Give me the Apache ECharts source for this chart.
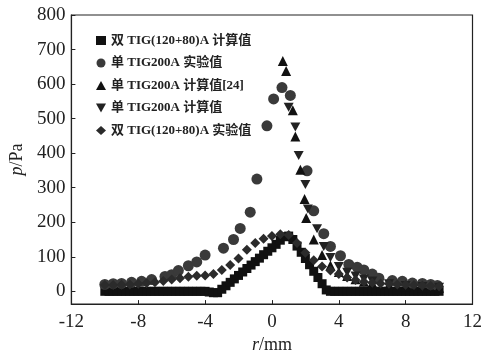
<!DOCTYPE html>
<html><head><meta charset="utf-8">
<script src="https://cdn.jsdelivr.net/npm/echarts@6/dist/echarts.min.js"></script>
<style>html,body{margin:0;padding:0;background:#fff}#c{width:485px;height:359px}</style>
</head><body><div id="c"></div>
<script>
// ---- data ----
const seriesNames = ['双 TIG(120+80)A 计算值','单 TIG200A 实验值','单 TIG200A 计算值[24]','单 TIG200A 计算值','双 TIG(120+80)A 实验值'];
const xTicks = [-12,-8,-4,0,4,8,12];
const yTicks = [0,100,200,300,400,500,600,700,800];

// double TIG calc (squares)
const sqR = [-10,-9.75,-9.5,-9.25,-9,-8.75,-8.5,-8.25,-8,-7.75,-7.5,-7.25,-7,-6.75,-6.5,-6.25,-6,-5.75,-5.5,-5.25,-5,-4.75,-4.5,-4.25,-4,-3.75,-3.5,-3.25,-3,-2.75,-2.5,-2.25,-2,-1.75,-1.5,-1.25,-1,-0.75,-0.5,-0.25,0,0.25,0.5,0.75,1,1.25,1.5,1.75,2,2.25,2.5,2.75,3,3.25,3.5,3.75,4,4.25,4.5,4.75,5,5.25,5.5,5.75,6,6.25,6.5,6.75,7,7.25,7.5,7.75,8,8.25,8.5,8.75,9,9.25,9.5,9.75,10];
const sqP = [0,0,0,0,0,0,0,0,0,0,0,0,0,0,0,0,0,0,0,0,0,0,0,0,0,-2,-4,-4,6,16,26,36,46,56,66,76,86,96,106,116,126,136,148,158,160,150,131,113,95,77,58,40,22,4,0,0,0,0,0,0,0,0,0,0,0,0,0,0,0,0,0,0,0,0,0,0,0,0,0,0,0];

// single TIG200A experiment (circles)
const ciR = [-10,-9.5,-9,-8.4,-7.8,-7.2,-6.4,-6,-5.6,-5,-4.5,-4,-2.9,-2.3,-1.9,-1.3,-0.9,-0.3,0.1,0.6,1.1,2.1,2.5,3.1,3.5,4.1,4.6,5.1,5.5,6,6.4,7.2,7.8,8.4,9,9.5,9.9];
const ciP = [20,22,23,26,29,34,43,48,60,74,85,105,125,150,182,229,325,479,557,590,567,349,233,167,130,103,78,70,62,50,38,31,29,24,23,20,17];

// single TIG200A calc [24] (triangles)
const trR = [0.65,0.85,1.25,1.4,1.7,1.95,2.05,2.5,3,3.5,4,4.5,5,5.5,6,7,8,9,10];
const trP = [667,638,524,448,352,267,212,150,105,75,56,44,35,28,24,18,14,12,10];

// single TIG200A calc (inverted triangles)
const itR = [1.0,1.4,1.6,2.0,2.15,2.7,3.1,3.5,4,4.5,5,5.5,6,7,8,9,10];
const itP = [533,476,393,309,238,181,130,98,72,55,44,36,30,22,17,14,12];

// double TIG experiment (diamonds)
const diR = [-10,-9.5,-9,-8.5,-8,-7.5,-7,-6.5,-6,-5.5,-5,-4.5,-4,-3.5,-3,-2.5,-2,-1.5,-1,-0.5,0,0.5,1,1.5,2,2.5,3,3.5,4,4.5,5,5.5,6,6.5,7,7.5,8,8.5,9,9.5,10];
const diP = [18,18,19,20,22,24,26,30,34,38,42,45,46,50,62,76,95,120,140,152,160,165,163,140,112,90,72,60,50,40,33,28,25,23,22,20,19,18,17,16,15];

const pairs = (r,p) => r.map((v,i)=>[v,p[i]]);
const FONT = '"Liberation Serif", "Noto Sans CJK SC", serif';
const invTri = 'path://M0,0 L10,0 L5,9 Z';

const chart = echarts.init(document.getElementById('c'), null, {renderer:'canvas'});
chart.setOption({
  animation:false,
  backgroundColor:'#fff',
  grid:{left:70,right:12,top:15,bottom:51,show:true,borderColor:'#222',borderWidth:1.2,backgroundColor:'transparent'},
  legend:{
    orient:'vertical', left:91, top:29, itemWidth:10, itemHeight:9, itemGap:9.5,
    textStyle:{fontFamily:FONT,fontSize:13,color:'#222',fontWeight:'bold'},
    data:[
      {name:seriesNames[0],icon:'rect'},
      {name:seriesNames[1],icon:'circle'},
      {name:seriesNames[2],icon:'triangle'},
      {name:seriesNames[3],icon:invTri},
      {name:seriesNames[4],icon:'diamond'}
    ]
  },
  xAxis:{
    type:'value', min:-12, max:12, interval:4,
    name:'{i|r}/mm', nameLocation:'middle', nameGap:30,
    nameTextStyle:{fontFamily:FONT,fontSize:18,color:'#222',rich:{i:{fontFamily:FONT,fontSize:18,fontStyle:'italic',color:'#222'}}},
    axisLine:{onZero:false,lineStyle:{color:'#222',width:1.2}},
    axisTick:{inside:true,length:4,lineStyle:{color:'#222'}},
    axisLabel:{fontFamily:FONT,fontSize:19,color:'#222',margin:8,showMinLabel:true,showMaxLabel:true},
    splitLine:{show:false}
  },
  yAxis:{
    type:'value', min:-37, max:800,
    name:'{i|p}/Pa', nameLocation:'middle', nameGap:44, nameRotate:90,
    nameTextStyle:{fontFamily:FONT,fontSize:18,color:'#222',rich:{i:{fontFamily:FONT,fontSize:18,fontStyle:'italic',color:'#222'}}},
    axisLine:{onZero:false,lineStyle:{color:'#222',width:1.2}},
    axisTick:{inside:true,length:4,lineStyle:{color:'#222'},customValues:yTicks},
    axisLabel:{fontFamily:FONT,fontSize:19,color:'#222',margin:6,customValues:yTicks},
    splitLine:{show:false}
  },
  series:[
    {name:seriesNames[0],type:'scatter',symbol:'rect',symbolSize:9,itemStyle:{color:'#111',opacity:1},data:pairs(sqR,sqP)},
    {name:seriesNames[1],type:'scatter',symbol:'circle',symbolSize:11,itemStyle:{color:'#3a3a3a',opacity:1},data:pairs(ciR,ciP)},
    {name:seriesNames[2],type:'scatter',symbol:'triangle',symbolSize:10,itemStyle:{color:'#111',opacity:1},data:pairs(trR,trP)},
    {name:seriesNames[3],type:'scatter',symbol:invTri,symbolSize:[10,9],itemStyle:{color:'#222',opacity:1},data:pairs(itR,itP)},
    {name:seriesNames[4],type:'scatter',symbol:'diamond',symbolSize:10,itemStyle:{color:'#2b2b2b',opacity:1},data:pairs(diR,diP)}
  ]
});
</script>
</body></html>
